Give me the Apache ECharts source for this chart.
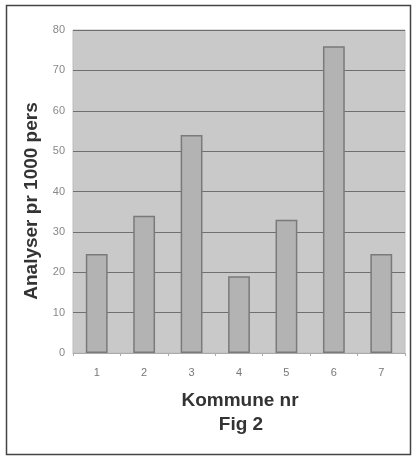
<!DOCTYPE html>
<html><head><meta charset="utf-8">
<script src="https://cdn.jsdelivr.net/npm/echarts@6/dist/echarts.min.js"></script>
<style>html,body{margin:0;padding:0;background:#fff}#c{width:413px;height:459px}</style>
</head><body><div id="c"></div>
<script>
var categories = ['1','2','3','4','5','6','7'];
var values = [24.5, 34, 54, 19, 33, 76, 24.5];
var yTicks = [0,10,20,30,40,50,60,70,80];
var xTitle = 'Kommune nr';
var yTitle = 'Analyser pr 1000 pers';
var caption = 'Fig 2';
var chart = echarts.init(document.getElementById('c'));
var titleStyle = {fontWeight:'bold',fontSize:19,fontFamily:'Liberation Sans',fill:'#333',align:'center',verticalAlign:'middle'};
chart.setOption({
  animation:false,
  grid:{left:73,right:8,top:30,bottom:106,show:true,backgroundColor:'#c9c9c9',borderColor:'#bdbdbd',borderWidth:1},
  graphic:[
    {type:'rect',shape:{x:6.5,y:5.5,width:404,height:449},style:{fill:'none',stroke:'#444',lineWidth:1.5},silent:true},
    {type:'text',x:240,y:401,style:Object.assign({text:xTitle},titleStyle)},
    {type:'text',x:241,y:425,style:Object.assign({text:caption},titleStyle)},
    {type:'text',x:32,y:201,rotation:Math.PI/2,style:Object.assign({text:yTitle},titleStyle)}
  ],
  xAxis:{type:'category',data:categories,
    axisLine:{lineStyle:{color:'#aaa'}},axisTick:{show:true,length:3,lineStyle:{color:'#aaa'}},
    axisLabel:{color:'#777',fontSize:11,fontFamily:'Liberation Sans',margin:14}},
  yAxis:{type:'value',min:0,max:80,interval:10,
    axisLine:{show:false},axisTick:{show:false},
    axisLabel:{color:'#888',fontSize:11,fontFamily:'Liberation Sans',margin:8,
      formatter:function(v){return yTicks.indexOf(v)>=0?String(v):'';}},
    splitLine:{lineStyle:{color:'#6f6f6f',width:1.2}}},
  series:[{type:'bar',data:values,barWidth:'46%',
    itemStyle:{color:'#b3b3b3',borderColor:'#7a7a7a',borderWidth:1.5}}]
});
</script></body></html>
